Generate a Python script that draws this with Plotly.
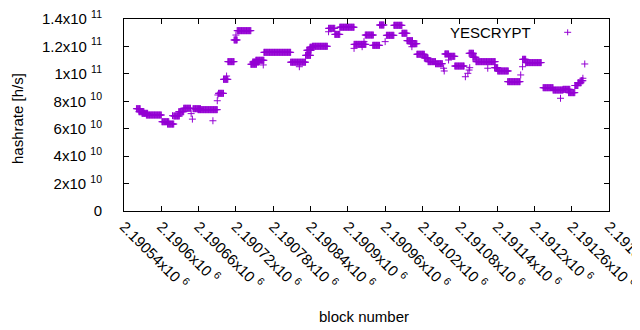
import plotly.graph_objects as go

# Runs of consecutive blocks sharing the same hashrate
run_start = [2190560, 2190564, 2190569, 2190576, 2190601, 2190610, 2190618, 2190620, 2190628, 2190636,
             2190648, 2190650, 2190651, 2190659, 2190683, 2190690, 2190691, 2190692, 2190700, 2190705,
             2190707, 2190717, 2190720, 2190722, 2190744, 2190747, 2190752, 2190764, 2190765, 2190808,
             2190822, 2190832, 2190834, 2190839, 2190843, 2190869, 2190869, 2190879, 2190887, 2190910,
             2190910, 2190923, 2190926, 2190928, 2190940, 2190951, 2190960, 2190962, 2190974, 2190987,
             2190995, 2191001, 2191003, 2191011, 2191023, 2191029, 2191041, 2191054, 2191055, 2191056,
             2191062, 2191062, 2191072, 2191089, 2191093, 2191095, 2191096, 2191095, 2191101, 2191106,
             2191125, 2191136, 2191141, 2191157, 2191178, 2191181, 2191181, 2191186, 2191214, 2191230,
             2191242, 2191246, 2191255, 2191265, 2191270, 2191275, 2191278, 2191281]
run_end = [2190566, 2190572, 2190578, 2190600, 2190612, 2190620, 2190618, 2190629, 2190636, 2190647,
           2190648, 2190650, 2190663, 2190690, 2190683, 2190690, 2190691, 2190700, 2190707, 2190705,
           2190717, 2190722, 2190720, 2190744, 2190753, 2190757, 2190765, 2190764, 2190808, 2190832,
           2190822, 2190840, 2190841, 2190844, 2190867, 2190869, 2190879, 2190887, 2190910, 2190910,
           2190929, 2190923, 2190926, 2190941, 2190951, 2190958, 2190960, 2190974, 2190987, 2190995,
           2191004, 2191011, 2191003, 2191023, 2191029, 2191041, 2191052, 2191054, 2191055, 2191062,
           2191062, 2191072, 2191087, 2191089, 2191093, 2191095, 2191096, 2191102, 2191106, 2191137,
           2191125, 2191141, 2191158, 2191177, 2191178, 2191181, 2191186, 2191211, 2191230, 2191246,
           2191242, 2191257, 2191265, 2191270, 2191275, 2191278, 2191278, 2191281]
run_hashrate_gh = [74.6, 72.4, 71.2, 70.0, 65.1, 63.4, 69.5, 69.3, 72.4, 74.9,
                   71.0, 67.0, 74.6, 73.9, 65.8, 80.4, 84.6, 85.8, 96.0, 98.4,
                   108.9, 124.7, 128.3, 131.5, 107.0, 108.6, 109.9, 106.5, 115.7, 108.5,
                   105.2, 113.5, 117.2, 119.4, 120.1, 130.7, 133.2, 128.8, 134.0, 118.6,
                   121.5, 119.8, 123.5, 128.3, 120.8, 135.6, 123.5, 128.1, 135.4, 129.6,
                   124.2, 122.0, 119.8, 114.3, 111.6, 108.9, 107.4, 104.1, 102.1, 114.5,
                   110.1, 112.8, 105.7, 97.9, 100.4, 102.8, 104.5, 115.0, 112.1, 108.9,
                   104.1, 104.5, 102.1, 94.3, 99.2, 105.2, 110.6, 108.2, 89.9, 88.2,
                   82.2, 88.7, 86.3, 91.5, 93.5, 95.0, 96.8, 107.2]

x_tick_vals = [2190540 + 60 * k for k in range(14)]
x_tick_text = ["2.19054", "2.1906", "2.19066", "2.19072", "2.19078", "2.19084", "2.1909",
               "2.19096", "2.19102", "2.19108", "2.19114", "2.1912", "2.19126", "2.19132"]
y_tick_vals = [0, 2e10, 4e10, 6e10, 8e10, 1e11, 1.2e11, 1.4e11]
y_tick_text = ["0", "2x10 <sup>10</sup>", "4x10 <sup>10</sup>", "6x10 <sup>10</sup>", "8x10 <sup>10</sup>",
               "1x10 <sup>11</sup>", "1.2x10 <sup>11</sup>", "1.4x10 <sup>11</sup>"]

series_name = "YESCRYPT"
color = "#9400D3"
FONT = "Liberation Sans, Arial, sans-serif"

xs, ys = [], []
for s, e, v in zip(run_start, run_end, run_hashrate_gh):
    for b in range(s, e + 1):
        xs.append(b)
        ys.append(v * 1e9)

fig = go.Figure()
fig.add_trace(go.Scatter(
    x=xs, y=ys, mode="markers", name=series_name, showlegend=False,
    marker=dict(symbol="cross-thin", size=5, color=color, line=dict(color=color, width=1)),
))

axis_common = dict(showline=True, linecolor="black", linewidth=1, mirror="ticks",
                   ticks="inside", ticklen=5, tickwidth=1, tickcolor="black",
                   showgrid=False, zeroline=False, ticklabeloverflow="allow",
                   tickfont=dict(family=FONT, size=15, color="black"))

fig.update_xaxes(range=[2190540, 2191320], tickmode="array", tickvals=x_tick_vals,
                 ticktext=[t + "x10 <sup>6</sup>" for t in x_tick_text], tickangle=45,
                 **axis_common)
fig.update_yaxes(range=[0, 1.4e11], tickmode="array", tickvals=y_tick_vals,
                 ticktext=y_tick_text, ticklabelstandoff=18, **axis_common)

# legend (gnuplot style: text then sample on the right)
fig.add_annotation(x=0.8433, y=0.93, xref="paper", yref="paper", text=series_name,
                   showarrow=False, xanchor="right", yanchor="middle",
                   font=dict(family=FONT, size=15, color="black"))
lx, ly = 0.9148, 0.9307
fig.add_shape(type="line", xref="paper", yref="paper", x0=lx - 0.0072, x1=lx + 0.0072, y0=ly, y1=ly,
              line=dict(color=color, width=1))
fig.add_shape(type="line", xref="paper", yref="paper", x0=lx, x1=lx, y0=ly - 0.0156, y1=ly + 0.0156,
              line=dict(color=color, width=1))

fig.add_annotation(x=-0.2206, y=0.479, xref="paper", yref="paper", text="hashrate [h/s]",
                   textangle=-90, showarrow=False, xanchor="center", yanchor="middle",
                   font=dict(family=FONT, size=15, color="black"))
fig.add_annotation(x=0.495, y=-0.547, xref="paper", yref="paper", text="block number",
                   showarrow=False, xanchor="center", yanchor="middle",
                   font=dict(family=FONT, size=15, color="black"))

# page body has an 8px margin: figure is sized so the plot area lands at x 124-609, y 19-211
fig.update_layout(width=632, height=322, margin=dict(l=116, r=31, t=11, b=119, autoexpand=False),
                  paper_bgcolor="white", plot_bgcolor="white", showlegend=False,
                  font=dict(family=FONT, size=15, color="black"))

fig.write_html("out.html")
